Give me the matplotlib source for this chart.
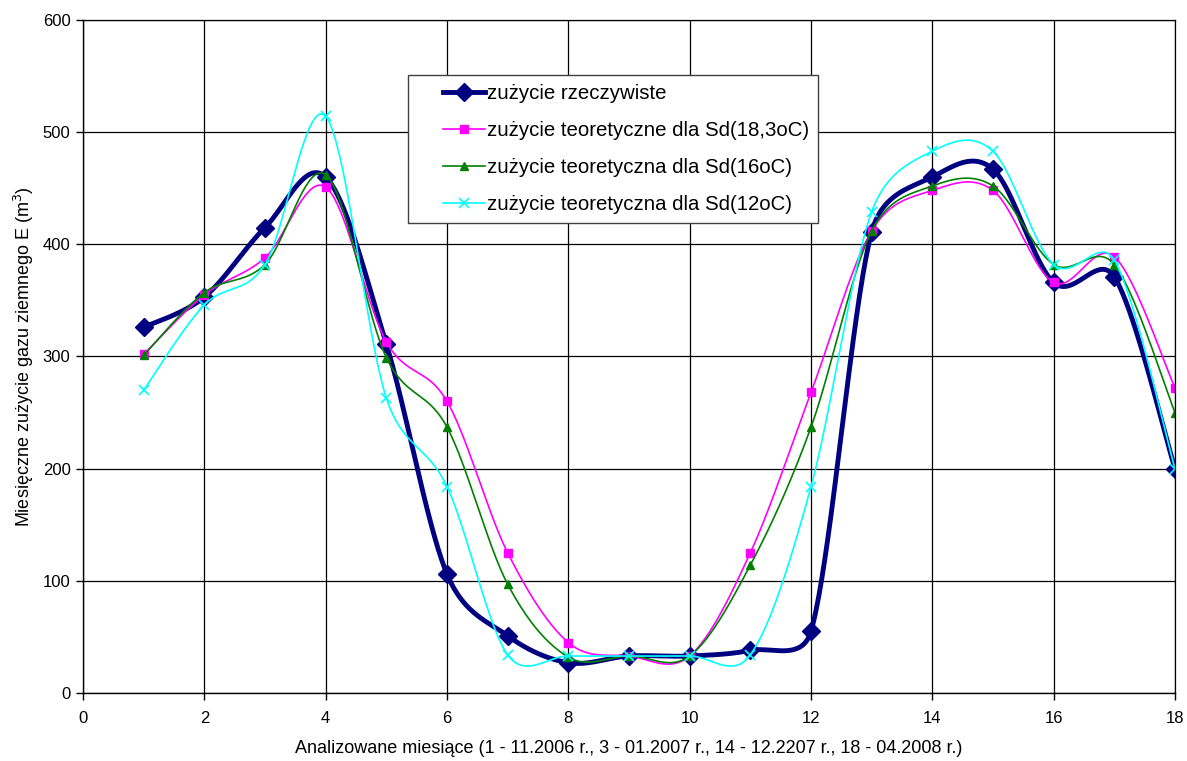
import matplotlib
matplotlib.use("Agg")
import matplotlib.pyplot as plt
from matplotlib.lines import Line2D
from matplotlib.legend_handler import HandlerLine2D
import numpy as np

plt.rcParams['font.family'] = ['Liberation Sans', 'DejaVu Sans']

# --- data ---
months = [1, 2, 3, 4, 5, 6, 7, 8, 9, 10, 11, 12, 13, 14, 15, 16, 17, 18]
actual = [326, 353, 415, 460, 311, 106, 51, 27, 33, 33, 38, 55, 411, 460, 467, 366, 371, 200]
theor_183 = [302, 355, 388, 451, 313, 260, 125, 45, 33, 33, 125, 268, 412, 448, 448, 366, 389, 272]
theor_16 = [301, 357, 382, 462, 299, 237, 97, 32, 33, 33, 114, 237, 412, 452, 452, 382, 382, 250]
theor_12 = [270, 346, 382, 514, 263, 184, 34, 33, 33, 33, 34, 184, 429, 483, 483, 382, 386, 200]

labels = ["zużycie rzeczywiste",
          "zużycie teoretyczne dla Sd(18,3oC)",
          "zużycie teoretyczna dla Sd(16oC)",
          "zużycie teoretyczna dla Sd(12oC)"]

# screen scale (px per data unit) used for the smoothing
SX = (1175 - 83) / 18.0
SY = (693 - 20) / 600.0


def ctrl(vec, seg_len, cap=0.5):
    # Catmull-Rom tangent, limited to a fraction of the segment length
    v = vec / 6.0
    n = np.hypot(*v)
    if n > cap * seg_len and n > 0:
        v = v * (cap * seg_len / n)
    return v


def smooth(x, y, n=40):
    """Excel-like smoothed line built from cubic Bezier segments."""
    p = np.column_stack([np.asarray(x, float) * SX, np.asarray(y, float) * SY])
    p_ext = np.vstack([p[0], p, p[-1]])
    t = np.linspace(0, 1, n, endpoint=False)[:, None]
    out = []
    for i in range(len(p) - 1):
        p0, p1, p2, p3 = p_ext[i], p_ext[i + 1], p_ext[i + 2], p_ext[i + 3]
        d12 = np.hypot(*(p2 - p1))
        c1 = p1 + ctrl(p2 - p0, d12)
        c2 = p2 - ctrl(p3 - p1, d12)
        seg = ((1 - t) ** 3) * p1 + 3 * ((1 - t) ** 2) * t * c1 + 3 * (1 - t) * t ** 2 * c2 + t ** 3 * p2
        out.append(seg)
    out.append(p[-1][None, :])
    out = np.vstack(out)
    return out[:, 0] / SX, out[:, 1] / SY


fig = plt.figure(figsize=(11.87, 7.61), dpi=100)
ax = fig.add_axes([83 / 1187, 1 - 693 / 761, (1175 - 83) / 1187, (693 - 20) / 761])

styles = [
    dict(color='#000080', lw=3.5, marker='D', ms=9, mew=1),
    dict(color='#FF00FF', lw=1.2, marker='s', ms=6, mew=1),
    dict(color='#008000', lw=1.2, marker='^', ms=6, mew=1),
    dict(color='#00FFFF', lw=1.2, marker='x', ms=7, mew=1.2),
]

handles = []
for ys, st in zip([actual, theor_183, theor_16, theor_12], styles):
    sx, sy = smooth(months, ys)
    ax.plot(sx, sy, color=st['color'], lw=st['lw'], solid_capstyle='round')
    ax.plot(months, ys, ls='none', marker=st['marker'], ms=st['ms'],
            color=st['color'], mec=st['color'], mew=st['mew'])
    handles.append(Line2D([], [], color=st['color'], lw=st['lw'], marker=st['marker'],
                          ms=st['ms'], mec=st['color'], mew=st['mew']))

ax.set_xlim(0, 18)
ax.set_ylim(0, 600)
ax.set_xticks(np.arange(0, 19, 2))
ax.set_yticks(np.arange(0, 601, 100))
ax.grid(True, color='black', lw=0.9)
ax.set_axisbelow(True)
for s in ax.spines.values():
    s.set_color('black')
    s.set_linewidth(1.0)
ax.spines['top'].set_linewidth(0.9)
ax.spines['right'].set_linewidth(0.9)
ax.tick_params(axis='both', direction='out', length=5, width=1, labelsize=12, colors='black')
ax.tick_params(axis='x', pad=8)
ax.tick_params(axis='y', pad=4)

ax.set_xlabel("Analizowane miesiące (1 - 11.2006 r., 3 - 01.2007 r., 14 - 12.2207 r., 18 - 04.2008 r.)",
              fontsize=13, labelpad=10)
ax.set_ylabel("Miesięczne zużycie gazu ziemnego E (m$^3$)", fontsize=13, labelpad=5)

leg_fs = 14.7
leg = ax.legend(handles, labels, loc='upper left', bbox_to_anchor=(408 / 1187, 1 - 75 / 761),
                bbox_transform=fig.transFigure, borderaxespad=0, fontsize=leg_fs,
                fancybox=False, framealpha=1, edgecolor='#404040', handlelength=3.3,
                handletextpad=0.1, labelspacing=0.88, borderpad=0.45,
                handler_map={Line2D: HandlerLine2D(xpad=1.25)})
leg.get_frame().set_linewidth(1.0)

fig.savefig("out.png", dpi=100)
